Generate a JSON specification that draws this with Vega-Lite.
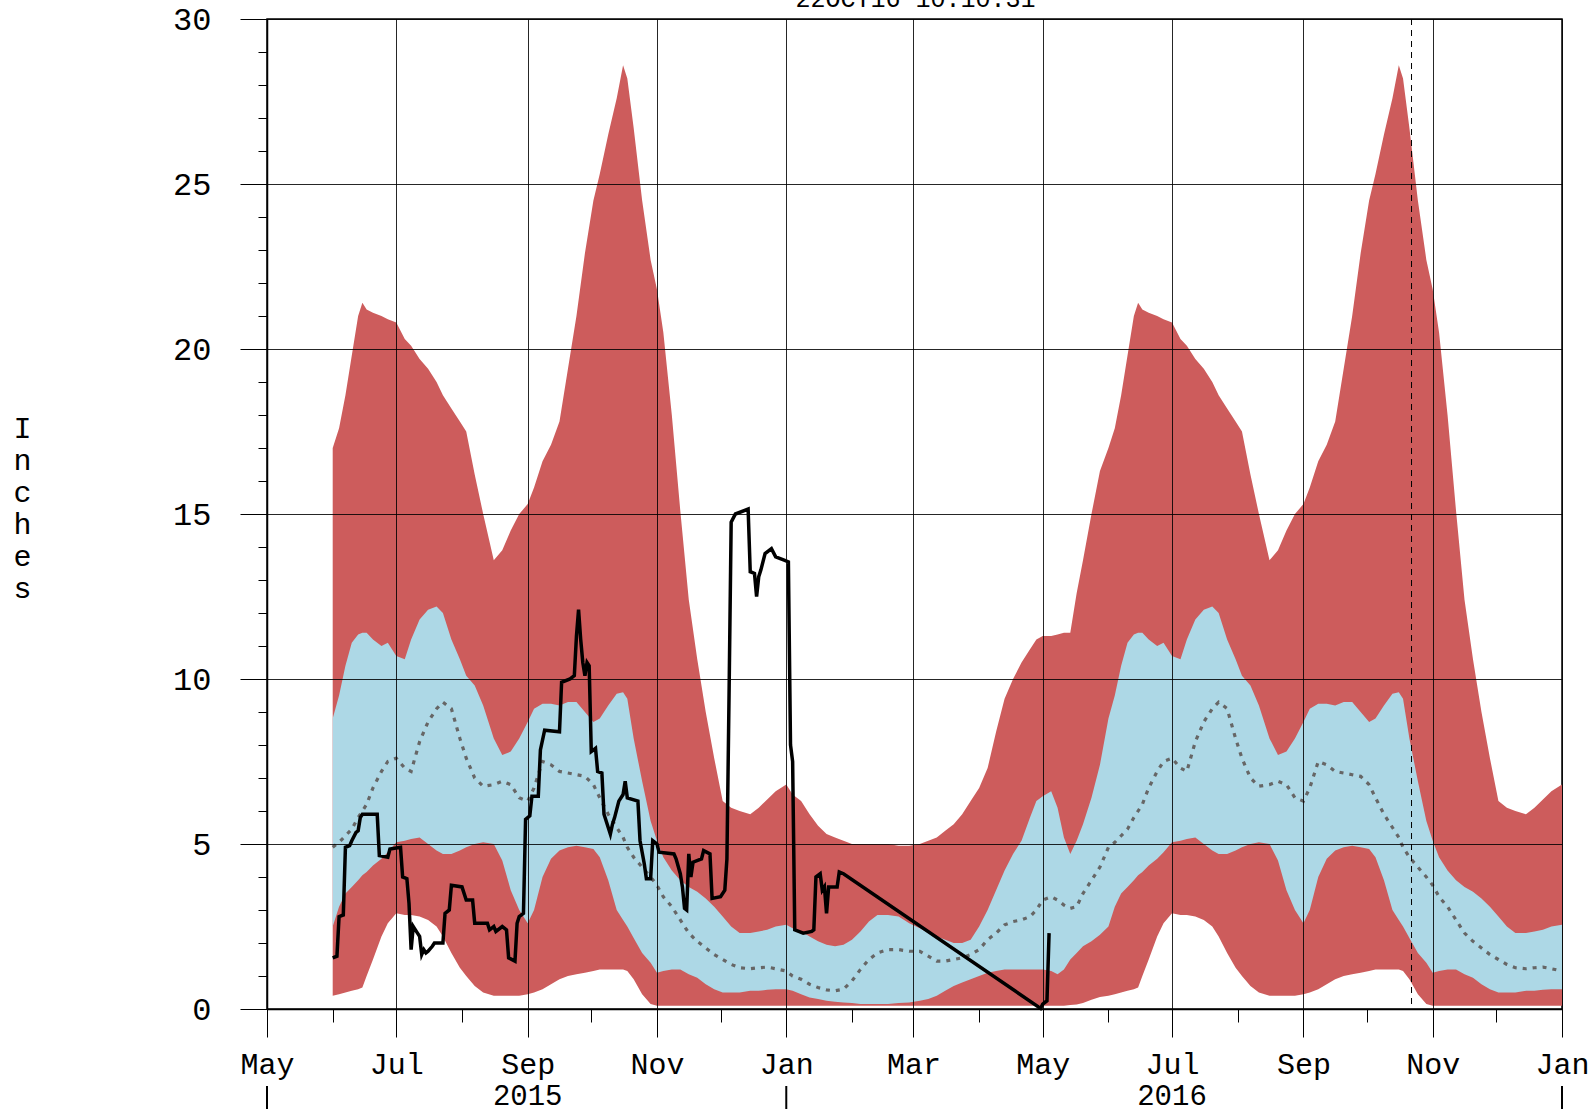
{
  "$schema": "https://vega.github.io/schema/vega-lite/v6.json",
  "width": 1295,
  "height": 990,
  "autosize": "none",
  "padding": {"left": 267, "top": 19, "right": 31, "bottom": 104},
  "background": "white",
  "config": {"view": {"stroke": "black", "strokeWidth": 1.5}},
  "datasets": {
    "clim": [
      {"date": "2015-06-01", "min": 0.4, "p10": 2.5, "med": 4.9, "p90": 8.8, "max": 17.0},
      {"date": "2015-06-04", "min": 0.45, "p10": 3.1, "med": 5.05, "p90": 9.5, "max": 17.6},
      {"date": "2015-06-07", "min": 0.5, "p10": 3.5, "med": 5.25, "p90": 10.4, "max": 18.6},
      {"date": "2015-06-10", "min": 0.55, "p10": 3.7, "med": 5.45, "p90": 11.1, "max": 19.8},
      {"date": "2015-06-13", "min": 0.6, "p10": 3.9, "med": 5.8, "p90": 11.35, "max": 21.0},
      {"date": "2015-06-15", "min": 0.65, "p10": 4.05, "med": 6.0, "p90": 11.4, "max": 21.4},
      {"date": "2015-06-17", "min": 1.0, "p10": 4.15, "med": 6.2, "p90": 11.4, "max": 21.2},
      {"date": "2015-06-20", "min": 1.5, "p10": 4.35, "med": 6.7, "p90": 11.2, "max": 21.1},
      {"date": "2015-06-24", "min": 2.2, "p10": 4.55, "med": 7.2, "p90": 11.0, "max": 21.0},
      {"date": "2015-06-27", "min": 2.6, "p10": 4.75, "med": 7.5, "p90": 11.1, "max": 20.9},
      {"date": "2015-07-01", "min": 2.9, "p10": 5.05, "med": 7.6, "p90": 10.7, "max": 20.8},
      {"date": "2015-07-05", "min": 2.85, "p10": 5.1, "med": 7.3, "p90": 10.6, "max": 20.3},
      {"date": "2015-07-08", "min": 2.85, "p10": 5.15, "med": 7.2, "p90": 11.2, "max": 20.1},
      {"date": "2015-07-12", "min": 2.8, "p10": 5.2, "med": 8.1, "p90": 11.8, "max": 19.7},
      {"date": "2015-07-16", "min": 2.7, "p10": 5.0, "med": 8.7, "p90": 12.1, "max": 19.4},
      {"date": "2015-07-20", "min": 2.5, "p10": 4.8, "med": 9.1, "p90": 12.2, "max": 19.0},
      {"date": "2015-07-23", "min": 2.2, "p10": 4.7, "med": 9.3, "p90": 12.0, "max": 18.6},
      {"date": "2015-07-27", "min": 1.7, "p10": 4.7, "med": 9.1, "p90": 11.2, "max": 18.2},
      {"date": "2015-07-31", "min": 1.25, "p10": 4.8, "med": 8.2, "p90": 10.6, "max": 17.8},
      {"date": "2015-08-03", "min": 1.0, "p10": 4.9, "med": 7.6, "p90": 10.1, "max": 17.5},
      {"date": "2015-08-07", "min": 0.7, "p10": 5.0, "med": 7.0, "p90": 9.8, "max": 16.2},
      {"date": "2015-08-11", "min": 0.5, "p10": 5.05, "med": 6.75, "p90": 9.2, "max": 15.0},
      {"date": "2015-08-16", "min": 0.4, "p10": 5.0, "med": 6.8, "p90": 8.2, "max": 13.6},
      {"date": "2015-08-20", "min": 0.4, "p10": 4.5, "med": 6.9, "p90": 7.7, "max": 13.9},
      {"date": "2015-08-24", "min": 0.4, "p10": 3.6, "med": 6.8, "p90": 7.8, "max": 14.5},
      {"date": "2015-08-28", "min": 0.4, "p10": 3.0, "med": 6.4, "p90": 8.2, "max": 15.0},
      {"date": "2015-09-01", "min": 0.45, "p10": 2.6, "med": 6.3, "p90": 8.7, "max": 15.3},
      {"date": "2015-09-04", "min": 0.5, "p10": 3.0, "med": 6.7, "p90": 9.1, "max": 15.8},
      {"date": "2015-09-08", "min": 0.6, "p10": 4.0, "med": 7.5, "p90": 9.25, "max": 16.6},
      {"date": "2015-09-12", "min": 0.75, "p10": 4.55, "med": 7.4, "p90": 9.25, "max": 17.1},
      {"date": "2015-09-16", "min": 0.9, "p10": 4.8, "med": 7.2, "p90": 9.2, "max": 17.8},
      {"date": "2015-09-20", "min": 1.0, "p10": 4.9, "med": 7.15, "p90": 9.3, "max": 19.4},
      {"date": "2015-09-24", "min": 1.05, "p10": 4.95, "med": 7.1, "p90": 9.3, "max": 21.0},
      {"date": "2015-09-28", "min": 1.1, "p10": 4.9, "med": 7.05, "p90": 9.0, "max": 22.9},
      {"date": "2015-10-02", "min": 1.15, "p10": 4.85, "med": 6.8, "p90": 8.7, "max": 24.5},
      {"date": "2015-10-05", "min": 1.2, "p10": 4.6, "med": 6.4, "p90": 8.8, "max": 25.3},
      {"date": "2015-10-09", "min": 1.2, "p10": 3.9, "med": 5.9, "p90": 9.2, "max": 26.5},
      {"date": "2015-10-13", "min": 1.2, "p10": 3.0, "med": 5.5, "p90": 9.55, "max": 27.6},
      {"date": "2015-10-16", "min": 1.2, "p10": 2.7, "med": 5.2, "p90": 9.6, "max": 28.6},
      {"date": "2015-10-18", "min": 1.15, "p10": 2.5, "med": 4.9, "p90": 9.4, "max": 28.2},
      {"date": "2015-10-21", "min": 0.9, "p10": 2.15, "med": 4.6, "p90": 8.2, "max": 26.7},
      {"date": "2015-10-25", "min": 0.45, "p10": 1.7, "med": 4.3, "p90": 6.9, "max": 24.5},
      {"date": "2015-10-29", "min": 0.15, "p10": 1.4, "med": 4.0, "p90": 5.7, "max": 22.7},
      {"date": "2015-11-01", "min": 0.1, "p10": 1.1, "med": 3.75, "p90": 5.1, "max": 21.8},
      {"date": "2015-11-04", "min": 0.1, "p10": 1.15, "med": 3.4, "p90": 4.6, "max": 20.5},
      {"date": "2015-11-08", "min": 0.1, "p10": 1.2, "med": 3.1, "p90": 4.2, "max": 18.0},
      {"date": "2015-11-12", "min": 0.1, "p10": 1.2, "med": 2.7, "p90": 3.9, "max": 15.1},
      {"date": "2015-11-16", "min": 0.1, "p10": 1.05, "med": 2.3, "p90": 3.7, "max": 12.4},
      {"date": "2015-11-20", "min": 0.1, "p10": 0.95, "med": 2.05, "p90": 3.55, "max": 10.6},
      {"date": "2015-11-24", "min": 0.1, "p10": 0.75, "med": 1.85, "p90": 3.35, "max": 9.0},
      {"date": "2015-11-28", "min": 0.1, "p10": 0.6, "med": 1.65, "p90": 3.1, "max": 7.6},
      {"date": "2015-12-02", "min": 0.1, "p10": 0.5, "med": 1.5, "p90": 2.8, "max": 6.3},
      {"date": "2015-12-06", "min": 0.1, "p10": 0.5, "med": 1.35, "p90": 2.5, "max": 6.1},
      {"date": "2015-12-10", "min": 0.1, "p10": 0.5, "med": 1.25, "p90": 2.3, "max": 6.0},
      {"date": "2015-12-15", "min": 0.1, "p10": 0.55, "med": 1.22, "p90": 2.3, "max": 5.9},
      {"date": "2015-12-19", "min": 0.1, "p10": 0.55, "med": 1.25, "p90": 2.35, "max": 6.1},
      {"date": "2015-12-23", "min": 0.1, "p10": 0.58, "med": 1.27, "p90": 2.4, "max": 6.35},
      {"date": "2015-12-27", "min": 0.1, "p10": 0.6, "med": 1.22, "p90": 2.5, "max": 6.6},
      {"date": "2016-01-01", "min": 0.1, "p10": 0.6, "med": 1.15, "p90": 2.55, "max": 6.8},
      {"date": "2016-01-04", "min": 0.1, "p10": 0.55, "med": 1.0, "p90": 2.45, "max": 6.5},
      {"date": "2016-01-08", "min": 0.1, "p10": 0.45, "med": 0.9, "p90": 2.35, "max": 6.3},
      {"date": "2016-01-12", "min": 0.1, "p10": 0.35, "med": 0.75, "p90": 2.2, "max": 5.9},
      {"date": "2016-01-16", "min": 0.1, "p10": 0.3, "med": 0.65, "p90": 2.05, "max": 5.55},
      {"date": "2016-01-20", "min": 0.1, "p10": 0.25, "med": 0.58, "p90": 1.95, "max": 5.3},
      {"date": "2016-01-24", "min": 0.1, "p10": 0.22, "med": 0.55, "p90": 1.9, "max": 5.2},
      {"date": "2016-01-28", "min": 0.1, "p10": 0.2, "med": 0.6, "p90": 1.95, "max": 5.1},
      {"date": "2016-02-01", "min": 0.1, "p10": 0.18, "med": 0.85, "p90": 2.1, "max": 5.0},
      {"date": "2016-02-05", "min": 0.1, "p10": 0.15, "med": 1.2, "p90": 2.35, "max": 5.0},
      {"date": "2016-02-09", "min": 0.1, "p10": 0.15, "med": 1.5, "p90": 2.65, "max": 5.0},
      {"date": "2016-02-13", "min": 0.1, "p10": 0.15, "med": 1.7, "p90": 2.85, "max": 5.0},
      {"date": "2016-02-18", "min": 0.1, "p10": 0.15, "med": 1.8, "p90": 2.85, "max": 5.0},
      {"date": "2016-02-23", "min": 0.1, "p10": 0.18, "med": 1.8, "p90": 2.8, "max": 4.95},
      {"date": "2016-02-28", "min": 0.1, "p10": 0.2, "med": 1.75, "p90": 2.6, "max": 4.95},
      {"date": "2016-03-04", "min": 0.1, "p10": 0.25, "med": 1.75, "p90": 2.45, "max": 5.0},
      {"date": "2016-03-08", "min": 0.1, "p10": 0.3, "med": 1.6, "p90": 2.3, "max": 5.1},
      {"date": "2016-03-12", "min": 0.1, "p10": 0.4, "med": 1.45, "p90": 2.2, "max": 5.2},
      {"date": "2016-03-16", "min": 0.1, "p10": 0.55, "med": 1.45, "p90": 2.1, "max": 5.4},
      {"date": "2016-03-20", "min": 0.1, "p10": 0.7, "med": 1.5, "p90": 2.0, "max": 5.6},
      {"date": "2016-03-24", "min": 0.1, "p10": 0.8, "med": 1.55, "p90": 2.0, "max": 5.9},
      {"date": "2016-03-28", "min": 0.1, "p10": 0.9, "med": 1.65, "p90": 2.1, "max": 6.3},
      {"date": "2016-04-01", "min": 0.1, "p10": 1.0, "med": 1.8, "p90": 2.5, "max": 6.7},
      {"date": "2016-04-05", "min": 0.1, "p10": 1.1, "med": 2.1, "p90": 3.0, "max": 7.3},
      {"date": "2016-04-09", "min": 0.1, "p10": 1.15, "med": 2.3, "p90": 3.6, "max": 8.4},
      {"date": "2016-04-13", "min": 0.1, "p10": 1.2, "med": 2.55, "p90": 4.2, "max": 9.4},
      {"date": "2016-04-17", "min": 0.1, "p10": 1.2, "med": 2.65, "p90": 4.7, "max": 10.0},
      {"date": "2016-04-21", "min": 0.1, "p10": 1.2, "med": 2.7, "p90": 5.1, "max": 10.5},
      {"date": "2016-04-25", "min": 0.1, "p10": 1.2, "med": 2.8, "p90": 5.8, "max": 10.9},
      {"date": "2016-04-28", "min": 0.1, "p10": 1.2, "med": 3.0, "p90": 6.3, "max": 11.2},
      {"date": "2016-05-01", "min": 0.1, "p10": 1.2, "med": 3.3, "p90": 6.45, "max": 11.3},
      {"date": "2016-05-05", "min": 0.1, "p10": 1.15, "med": 3.4, "p90": 6.6, "max": 11.3},
      {"date": "2016-05-08", "min": 0.1, "p10": 1.05, "med": 3.3, "p90": 6.1, "max": 11.35},
      {"date": "2016-05-11", "min": 0.1, "p10": 1.2, "med": 3.15, "p90": 5.2, "max": 11.4},
      {"date": "2016-05-14", "min": 0.12, "p10": 1.5, "med": 3.05, "p90": 4.7, "max": 11.4},
      {"date": "2016-05-17", "min": 0.14, "p10": 1.7, "med": 3.1, "p90": 5.1, "max": 12.6},
      {"date": "2016-05-20", "min": 0.18, "p10": 1.9, "med": 3.5, "p90": 5.6, "max": 13.6},
      {"date": "2016-05-24", "min": 0.28, "p10": 2.05, "med": 3.9, "p90": 6.4, "max": 15.0},
      {"date": "2016-05-28", "min": 0.36, "p10": 2.25, "med": 4.3, "p90": 7.4, "max": 16.3},
      {"date": "2016-06-01", "min": 0.4, "p10": 2.5, "med": 4.9, "p90": 8.8, "max": 17.0},
      {"date": "2016-06-04", "min": 0.45, "p10": 3.1, "med": 5.05, "p90": 9.5, "max": 17.6},
      {"date": "2016-06-07", "min": 0.5, "p10": 3.5, "med": 5.25, "p90": 10.4, "max": 18.6},
      {"date": "2016-06-10", "min": 0.55, "p10": 3.7, "med": 5.45, "p90": 11.1, "max": 19.8},
      {"date": "2016-06-13", "min": 0.6, "p10": 3.9, "med": 5.8, "p90": 11.35, "max": 21.0},
      {"date": "2016-06-15", "min": 0.65, "p10": 4.05, "med": 6.0, "p90": 11.4, "max": 21.4},
      {"date": "2016-06-17", "min": 1.0, "p10": 4.15, "med": 6.2, "p90": 11.4, "max": 21.2},
      {"date": "2016-06-20", "min": 1.5, "p10": 4.35, "med": 6.7, "p90": 11.2, "max": 21.1},
      {"date": "2016-06-24", "min": 2.2, "p10": 4.55, "med": 7.2, "p90": 11.0, "max": 21.0},
      {"date": "2016-06-27", "min": 2.6, "p10": 4.75, "med": 7.5, "p90": 11.1, "max": 20.9},
      {"date": "2016-07-01", "min": 2.9, "p10": 5.05, "med": 7.6, "p90": 10.7, "max": 20.8},
      {"date": "2016-07-05", "min": 2.85, "p10": 5.1, "med": 7.3, "p90": 10.6, "max": 20.3},
      {"date": "2016-07-08", "min": 2.85, "p10": 5.15, "med": 7.2, "p90": 11.2, "max": 20.1},
      {"date": "2016-07-12", "min": 2.8, "p10": 5.2, "med": 8.1, "p90": 11.8, "max": 19.7},
      {"date": "2016-07-16", "min": 2.7, "p10": 5.0, "med": 8.7, "p90": 12.1, "max": 19.4},
      {"date": "2016-07-20", "min": 2.5, "p10": 4.8, "med": 9.1, "p90": 12.2, "max": 19.0},
      {"date": "2016-07-23", "min": 2.2, "p10": 4.7, "med": 9.3, "p90": 12.0, "max": 18.6},
      {"date": "2016-07-27", "min": 1.7, "p10": 4.7, "med": 9.1, "p90": 11.2, "max": 18.2},
      {"date": "2016-07-31", "min": 1.25, "p10": 4.8, "med": 8.2, "p90": 10.6, "max": 17.8},
      {"date": "2016-08-03", "min": 1.0, "p10": 4.9, "med": 7.6, "p90": 10.1, "max": 17.5},
      {"date": "2016-08-07", "min": 0.7, "p10": 5.0, "med": 7.0, "p90": 9.8, "max": 16.2},
      {"date": "2016-08-11", "min": 0.5, "p10": 5.05, "med": 6.75, "p90": 9.2, "max": 15.0},
      {"date": "2016-08-16", "min": 0.4, "p10": 5.0, "med": 6.8, "p90": 8.2, "max": 13.6},
      {"date": "2016-08-20", "min": 0.4, "p10": 4.5, "med": 6.9, "p90": 7.7, "max": 13.9},
      {"date": "2016-08-24", "min": 0.4, "p10": 3.6, "med": 6.8, "p90": 7.8, "max": 14.5},
      {"date": "2016-08-28", "min": 0.4, "p10": 3.0, "med": 6.4, "p90": 8.2, "max": 15.0},
      {"date": "2016-09-01", "min": 0.45, "p10": 2.6, "med": 6.3, "p90": 8.7, "max": 15.3},
      {"date": "2016-09-04", "min": 0.5, "p10": 3.0, "med": 6.7, "p90": 9.1, "max": 15.8},
      {"date": "2016-09-08", "min": 0.6, "p10": 4.0, "med": 7.5, "p90": 9.25, "max": 16.6},
      {"date": "2016-09-12", "min": 0.75, "p10": 4.55, "med": 7.4, "p90": 9.25, "max": 17.1},
      {"date": "2016-09-16", "min": 0.9, "p10": 4.8, "med": 7.2, "p90": 9.2, "max": 17.8},
      {"date": "2016-09-20", "min": 1.0, "p10": 4.9, "med": 7.15, "p90": 9.3, "max": 19.4},
      {"date": "2016-09-24", "min": 1.05, "p10": 4.95, "med": 7.1, "p90": 9.3, "max": 21.0},
      {"date": "2016-09-28", "min": 1.1, "p10": 4.9, "med": 7.05, "p90": 9.0, "max": 22.9},
      {"date": "2016-10-02", "min": 1.15, "p10": 4.85, "med": 6.8, "p90": 8.7, "max": 24.5},
      {"date": "2016-10-05", "min": 1.2, "p10": 4.6, "med": 6.4, "p90": 8.8, "max": 25.3},
      {"date": "2016-10-09", "min": 1.2, "p10": 3.9, "med": 5.9, "p90": 9.2, "max": 26.5},
      {"date": "2016-10-13", "min": 1.2, "p10": 3.0, "med": 5.5, "p90": 9.55, "max": 27.6},
      {"date": "2016-10-16", "min": 1.2, "p10": 2.7, "med": 5.2, "p90": 9.6, "max": 28.6},
      {"date": "2016-10-18", "min": 1.15, "p10": 2.5, "med": 4.9, "p90": 9.4, "max": 28.2},
      {"date": "2016-10-21", "min": 0.9, "p10": 2.15, "med": 4.6, "p90": 8.2, "max": 26.7},
      {"date": "2016-10-25", "min": 0.45, "p10": 1.7, "med": 4.3, "p90": 6.9, "max": 24.5},
      {"date": "2016-10-29", "min": 0.15, "p10": 1.4, "med": 4.0, "p90": 5.7, "max": 22.7},
      {"date": "2016-11-01", "min": 0.1, "p10": 1.1, "med": 3.75, "p90": 5.1, "max": 21.8},
      {"date": "2016-11-04", "min": 0.1, "p10": 1.15, "med": 3.4, "p90": 4.6, "max": 20.5},
      {"date": "2016-11-08", "min": 0.1, "p10": 1.2, "med": 3.1, "p90": 4.2, "max": 18.0},
      {"date": "2016-11-12", "min": 0.1, "p10": 1.2, "med": 2.7, "p90": 3.9, "max": 15.1},
      {"date": "2016-11-16", "min": 0.1, "p10": 1.05, "med": 2.3, "p90": 3.7, "max": 12.4},
      {"date": "2016-11-20", "min": 0.1, "p10": 0.95, "med": 2.05, "p90": 3.55, "max": 10.6},
      {"date": "2016-11-24", "min": 0.1, "p10": 0.75, "med": 1.85, "p90": 3.35, "max": 9.0},
      {"date": "2016-11-28", "min": 0.1, "p10": 0.6, "med": 1.65, "p90": 3.1, "max": 7.6},
      {"date": "2016-12-02", "min": 0.1, "p10": 0.5, "med": 1.5, "p90": 2.8, "max": 6.3},
      {"date": "2016-12-06", "min": 0.1, "p10": 0.5, "med": 1.35, "p90": 2.5, "max": 6.1},
      {"date": "2016-12-10", "min": 0.1, "p10": 0.5, "med": 1.25, "p90": 2.3, "max": 6.0},
      {"date": "2016-12-15", "min": 0.1, "p10": 0.55, "med": 1.22, "p90": 2.3, "max": 5.9},
      {"date": "2016-12-19", "min": 0.1, "p10": 0.55, "med": 1.25, "p90": 2.35, "max": 6.1},
      {"date": "2016-12-23", "min": 0.1, "p10": 0.58, "med": 1.27, "p90": 2.4, "max": 6.35},
      {"date": "2016-12-27", "min": 0.1, "p10": 0.6, "med": 1.22, "p90": 2.5, "max": 6.6},
      {"date": "2017-01-01", "min": 0.1, "p10": 0.6, "med": 1.15, "p90": 2.55, "max": 6.8}
    ],
    "obs": [
      {"date": "2015-06-01", "snow": 1.55}, {"date": "2015-06-03", "snow": 1.6}, {"date": "2015-06-04", "snow": 2.8},
      {"date": "2015-06-06", "snow": 2.85}, {"date": "2015-06-07", "snow": 4.9}, {"date": "2015-06-09", "snow": 4.95},
      {"date": "2015-06-10", "snow": 5.1}, {"date": "2015-06-12", "snow": 5.35}, {"date": "2015-06-13", "snow": 5.4},
      {"date": "2015-06-14", "snow": 5.8}, {"date": "2015-06-15", "snow": 5.9}, {"date": "2015-06-22", "snow": 5.9},
      {"date": "2015-06-23", "snow": 4.65}, {"date": "2015-06-27", "snow": 4.6}, {"date": "2015-06-28", "snow": 4.85},
      {"date": "2015-07-03", "snow": 4.9}, {"date": "2015-07-04", "snow": 4.0}, {"date": "2015-07-06", "snow": 3.95},
      {"date": "2015-07-07", "snow": 3.2}, {"date": "2015-07-08", "snow": 1.8}, {"date": "2015-07-09", "snow": 2.5},
      {"date": "2015-07-11", "snow": 2.3}, {"date": "2015-07-12", "snow": 2.2}, {"date": "2015-07-13", "snow": 1.65},
      {"date": "2015-07-14", "snow": 1.8}, {"date": "2015-07-15", "snow": 1.7}, {"date": "2015-07-16", "snow": 1.75},
      {"date": "2015-07-18", "snow": 1.9}, {"date": "2015-07-19", "snow": 2.0}, {"date": "2015-07-23", "snow": 2.0},
      {"date": "2015-07-24", "snow": 2.9}, {"date": "2015-07-26", "snow": 3.0}, {"date": "2015-07-27", "snow": 3.75},
      {"date": "2015-08-01", "snow": 3.7}, {"date": "2015-08-03", "snow": 3.3}, {"date": "2015-08-06", "snow": 3.3},
      {"date": "2015-08-07", "snow": 2.6}, {"date": "2015-08-13", "snow": 2.6}, {"date": "2015-08-14", "snow": 2.4},
      {"date": "2015-08-16", "snow": 2.5}, {"date": "2015-08-17", "snow": 2.35}, {"date": "2015-08-20", "snow": 2.5},
      {"date": "2015-08-22", "snow": 2.4}, {"date": "2015-08-23", "snow": 1.55}, {"date": "2015-08-26", "snow": 1.45},
      {"date": "2015-08-27", "snow": 2.6}, {"date": "2015-08-28", "snow": 2.8}, {"date": "2015-08-30", "snow": 2.9},
      {"date": "2015-08-31", "snow": 5.75}, {"date": "2015-09-02", "snow": 5.85}, {"date": "2015-09-03", "snow": 6.45},
      {"date": "2015-09-06", "snow": 6.45}, {"date": "2015-09-07", "snow": 7.85}, {"date": "2015-09-09", "snow": 8.45},
      {"date": "2015-09-16", "snow": 8.4}, {"date": "2015-09-17", "snow": 9.9}, {"date": "2015-09-21", "snow": 10.0},
      {"date": "2015-09-23", "snow": 10.1}, {"date": "2015-09-24", "snow": 11.3}, {"date": "2015-09-25", "snow": 12.1},
      {"date": "2015-09-26", "snow": 11.2}, {"date": "2015-09-27", "snow": 10.5}, {"date": "2015-09-28", "snow": 10.1},
      {"date": "2015-09-29", "snow": 10.5}, {"date": "2015-09-30", "snow": 10.4}, {"date": "2015-10-01", "snow": 7.8},
      {"date": "2015-10-03", "snow": 7.9}, {"date": "2015-10-04", "snow": 7.2}, {"date": "2015-10-06", "snow": 7.15},
      {"date": "2015-10-07", "snow": 5.9}, {"date": "2015-10-09", "snow": 5.5}, {"date": "2015-10-10", "snow": 5.3},
      {"date": "2015-10-11", "snow": 5.6}, {"date": "2015-10-12", "snow": 5.8}, {"date": "2015-10-14", "snow": 6.3},
      {"date": "2015-10-16", "snow": 6.5}, {"date": "2015-10-17", "snow": 6.9}, {"date": "2015-10-18", "snow": 6.4},
      {"date": "2015-10-23", "snow": 6.3}, {"date": "2015-10-24", "snow": 5.1}, {"date": "2015-10-26", "snow": 4.4},
      {"date": "2015-10-27", "snow": 3.95}, {"date": "2015-10-29", "snow": 3.95}, {"date": "2015-10-30", "snow": 5.1},
      {"date": "2015-11-01", "snow": 5.0}, {"date": "2015-11-02", "snow": 4.75}, {"date": "2015-11-09", "snow": 4.7},
      {"date": "2015-11-10", "snow": 4.55}, {"date": "2015-11-12", "snow": 4.1}, {"date": "2015-11-13", "snow": 3.7},
      {"date": "2015-11-14", "snow": 3.05}, {"date": "2015-11-15", "snow": 3.0}, {"date": "2015-11-16", "snow": 4.7},
      {"date": "2015-11-17", "snow": 4.0}, {"date": "2015-11-18", "snow": 4.45}, {"date": "2015-11-22", "snow": 4.55},
      {"date": "2015-11-23", "snow": 4.8}, {"date": "2015-11-26", "snow": 4.7}, {"date": "2015-11-27", "snow": 3.35},
      {"date": "2015-12-01", "snow": 3.4}, {"date": "2015-12-03", "snow": 3.6}, {"date": "2015-12-04", "snow": 4.55},
      {"date": "2015-12-05", "snow": 9.5}, {"date": "2015-12-06", "snow": 14.75}, {"date": "2015-12-08", "snow": 15.0},
      {"date": "2015-12-14", "snow": 15.15}, {"date": "2015-12-15", "snow": 13.25}, {"date": "2015-12-17", "snow": 13.2},
      {"date": "2015-12-18", "snow": 12.5}, {"date": "2015-12-19", "snow": 13.1}, {"date": "2015-12-20", "snow": 13.3},
      {"date": "2015-12-22", "snow": 13.8}, {"date": "2015-12-25", "snow": 13.95}, {"date": "2015-12-27", "snow": 13.7},
      {"date": "2015-12-31", "snow": 13.6}, {"date": "2016-01-02", "snow": 13.55}, {"date": "2016-01-03", "snow": 8.0},
      {"date": "2016-01-04", "snow": 7.5}, {"date": "2016-01-05", "snow": 2.4}, {"date": "2016-01-09", "snow": 2.3},
      {"date": "2016-01-13", "snow": 2.35}, {"date": "2016-01-14", "snow": 2.4}, {"date": "2016-01-15", "snow": 4.0},
      {"date": "2016-01-17", "snow": 4.1}, {"date": "2016-01-18", "snow": 3.6}, {"date": "2016-01-19", "snow": 3.7},
      {"date": "2016-01-20", "snow": 2.9}, {"date": "2016-01-21", "snow": 3.7}, {"date": "2016-01-25", "snow": 3.7},
      {"date": "2016-01-26", "snow": 4.15}, {"date": "2016-01-28", "snow": 4.1}, {"date": "2016-04-30", "snow": 0.02},
      {"date": "2016-05-01", "snow": 0.15}, {"date": "2016-05-03", "snow": 0.25}, {"date": "2016-05-04", "snow": 2.3}
    ]
  },
  "resolve": {"axis": {"x": "independent", "y": "independent"}},
  "layer": [
    {
      "data": {"name": "clim"},
      "mark": {"type": "area", "color": "#CD5C5C", "opacity": 1},
      "encoding": {
        "x": {"field": "date", "type": "temporal",
          "scale": {"type": "utc", "domain": [{"year": 2015, "month": 5, "date": 1, "utc": true}, {"year": 2017, "month": 1, "date": 1, "utc": true}]},
          "axis": {"orient": "bottom", "title": null, "labels": false, "grid": false, "domain": false, "tickSize": 13, "tickColor": "black", "tickWidth": 1,
            "values": [
              {"year": 2015, "month": 5, "date": 1, "utc": true}, {"year": 2015, "month": 6, "date": 1, "utc": true}, {"year": 2015, "month": 7, "date": 1, "utc": true},
              {"year": 2015, "month": 8, "date": 1, "utc": true}, {"year": 2015, "month": 9, "date": 1, "utc": true}, {"year": 2015, "month": 10, "date": 1, "utc": true},
              {"year": 2015, "month": 11, "date": 1, "utc": true}, {"year": 2015, "month": 12, "date": 1, "utc": true}, {"year": 2016, "month": 1, "date": 1, "utc": true},
              {"year": 2016, "month": 2, "date": 1, "utc": true}, {"year": 2016, "month": 3, "date": 1, "utc": true}, {"year": 2016, "month": 4, "date": 1, "utc": true},
              {"year": 2016, "month": 5, "date": 1, "utc": true}, {"year": 2016, "month": 6, "date": 1, "utc": true}, {"year": 2016, "month": 7, "date": 1, "utc": true},
              {"year": 2016, "month": 8, "date": 1, "utc": true}, {"year": 2016, "month": 9, "date": 1, "utc": true}, {"year": 2016, "month": 10, "date": 1, "utc": true},
              {"year": 2016, "month": 11, "date": 1, "utc": true}, {"year": 2016, "month": 12, "date": 1, "utc": true}, {"year": 2017, "month": 1, "date": 1, "utc": true}
            ]}},
        "y": {"field": "min", "type": "quantitative", "scale": {"domain": [0, 30], "nice": false},
          "axis": {"orient": "left", "title": null, "labels": false, "grid": false, "domain": false, "tickSize": 9, "tickColor": "black", "tickWidth": 1,
            "values": [0,1,2,3,4,5,6,7,8,9,10,11,12,13,14,15,16,17,18,19,20,21,22,23,24,25,26,27,28,29,30]}},
        "y2": {"field": "max"}
      }
    },
    {
      "data": {"name": "clim"},
      "mark": {"type": "area", "color": "#ADD8E6", "opacity": 1},
      "encoding": {
        "x": {"field": "date", "type": "temporal", "axis": null},
        "y": {"field": "p10", "type": "quantitative", "axis": null},
        "y2": {"field": "p90"}
      }
    },
    {
      "data": {"name": "clim"},
      "mark": {"type": "line", "color": "#666666", "strokeWidth": 3.2, "strokeDash": [4, 6]},
      "encoding": {
        "x": {"field": "date", "type": "temporal", "axis": null},
        "y": {"field": "med", "type": "quantitative", "axis": null}
      }
    },
    {
      "data": {"name": "obs"},
      "mark": {"type": "line", "color": "black", "strokeWidth": 3.5, "strokeJoin": "miter"},
      "encoding": {
        "x": {"field": "date", "type": "temporal",
          "axis": {"orient": "bottom", "title": null, "format": "%b", "labelFont": "Liberation Mono", "labelFontSize": 30, "labelColor": "black",
            "labelPadding": 12, "labelFlush": false, "labelOverlap": false, "tickSize": 28, "tickColor": "black", "tickWidth": 1,
            "grid": true, "gridColor": "black", "gridWidth": 1, "gridOpacity": 0.85, "domain": true, "domainColor": "black", "domainWidth": 1.5, "zindex": 1,
            "values": [
              {"year": 2015, "month": 5, "date": 1, "utc": true}, {"year": 2015, "month": 7, "date": 1, "utc": true}, {"year": 2015, "month": 9, "date": 1, "utc": true},
              {"year": 2015, "month": 11, "date": 1, "utc": true}, {"year": 2016, "month": 1, "date": 1, "utc": true}, {"year": 2016, "month": 3, "date": 1, "utc": true},
              {"year": 2016, "month": 5, "date": 1, "utc": true}, {"year": 2016, "month": 7, "date": 1, "utc": true}, {"year": 2016, "month": 9, "date": 1, "utc": true},
              {"year": 2016, "month": 11, "date": 1, "utc": true}, {"year": 2017, "month": 1, "date": 1, "utc": true}
            ]}},
        "y": {"field": "snow", "type": "quantitative",
          "axis": {"orient": "left", "values": [0, 5, 10, 15, 20, 25, 30], "labelFont": "Liberation Mono", "labelFontSize": 32, "labelColor": "black",
            "labelPadding": 29, "tickSize": 27, "tickColor": "black", "tickWidth": 1, "grid": true, "gridColor": "black", "gridWidth": 1, "gridOpacity": 0.85,
            "domain": true, "domainColor": "black", "domainWidth": 1.5, "zindex": 1,
            "title": ["I", "n", "c", "h", "e", "s"], "titleAngle": 0, "titleFont": "Liberation Mono", "titleFontSize": 30, "titleFontWeight": "normal",
            "titleColor": "black", "titleLineHeight": 32, "titleX": -245, "titleY": 409, "titleAlign": "center", "titleBaseline": "middle"}}
      }
    },
    {
      "data": {"values": [{"date": "2016-10-22"}]},
      "mark": {"type": "rule", "color": "black", "strokeWidth": 1, "strokeDash": [6, 5]},
      "encoding": {
        "x": {"field": "date", "type": "temporal", "axis": null}
      }
    },
    {
      "data": {"values": [{"date": "2015-09-01", "year": "2015"}, {"date": "2016-07-01", "year": "2016"}]},
      "mark": {"type": "text", "font": "Liberation Mono", "fontSize": 29, "color": "black", "baseline": "middle", "align": "center", "dy": 87},
      "encoding": {
        "x": {"field": "date", "type": "temporal", "axis": null},
        "y": {"datum": 0, "axis": null},
        "text": {"field": "year"}
      }
    },
    {
      "data": {"values": [{"date": "2015-05-01"}, {"date": "2016-01-01"}, {"date": "2017-01-01"}]},
      "mark": {"type": "rule", "color": "black", "strokeWidth": 2, "yOffset": 77, "y2Offset": 100},
      "encoding": {
        "x": {"field": "date", "type": "temporal", "axis": null},
        "y": {"datum": 0, "axis": null},
        "y2": {"datum": 0}
      }
    },
    {
      "data": {"values": [{"date": "2016-03-02", "label": "22OCT16  10:10:31"}]},
      "mark": {"type": "text", "font": "Liberation Mono", "fontSize": 25, "color": "black", "baseline": "alphabetic", "align": "center", "dy": -12},
      "encoding": {
        "x": {"field": "date", "type": "temporal", "axis": null},
        "y": {"datum": 30, "axis": null},
        "text": {"field": "label"}
      }
    }
  ]
}
